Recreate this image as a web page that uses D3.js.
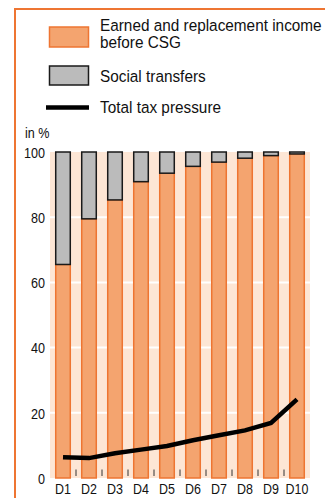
<!DOCTYPE html>
<html>
<head>
<meta charset="utf-8">
<script src="https://cdn.jsdelivr.net/npm/d3@7"></script>
<style>
  html, body { margin: 0; padding: 0; background: #fff; }
  svg { display: block; font-family: "Liberation Sans", Arial, Helvetica, sans-serif; }
</style>
</head>
<body>
<script>
const categories = ["D1","D2","D3","D4","D5","D6","D7","D8","D9","D10"];
const earnedIncome = [65.5, 79.5, 85.3, 90.9, 93.5, 95.6, 96.9, 98.1, 98.9, 99.4];
const socialTransfers = [34.5, 20.5, 14.7, 9.1, 6.5, 4.4, 3.1, 1.9, 1.1, 0.6];
const taxPressure = [6.4, 6.1, 7.6, 8.7, 9.8, 11.6, 13.1, 14.6, 16.9, 24.1];
const yTicks = [0, 20, 40, 60, 80, 100];
const legendLabels = [["Earned and replacement income", "before CSG"], ["Social transfers"], ["Total tax pressure"]];

const W = 325, H = 498;
const ORANGE = "#ee7532", ORANGE_FILL = "#f4a46f", PEACH = "#fde6d5", GREY = "#bbbbbb", DARK = "#1a1a1a";

const svg = d3.select("body").append("svg").attr("width", W).attr("height", H);

// frame
svg.append("path").attr("d", `M15,${H} L15,9 L${W},9`).attr("fill", "none")
  .attr("stroke", ORANGE).attr("stroke-width", 2);

const x = d3.scaleBand().domain(categories).range([50, 310]).paddingInner(0.44).paddingOuter(0.22);
const y = d3.scaleLinear().domain([0, 100]).range([478, 152]);

// plot background
svg.append("rect").attr("x", 50).attr("y", y(100)).attr("width", 260).attr("height", y(0) - y(100)).attr("fill", PEACH);

// gridlines
svg.append("g").selectAll("line").data(yTicks.filter(d => d > 0 && d < 100)).join("line")
  .attr("x1", 50).attr("x2", 310).attr("y1", d => y(d)).attr("y2", d => y(d))
  .attr("stroke", "#fff").attr("stroke-width", 2);

// bars
const bars = svg.append("g");
bars.selectAll("rect.e").data(categories).join("rect").attr("class", "e")
  .attr("x", d => x(d)).attr("width", x.bandwidth())
  .attr("y", (d, i) => y(earnedIncome[i])).attr("height", (d, i) => y(0) - y(earnedIncome[i]))
  .attr("fill", ORANGE_FILL).attr("stroke", ORANGE).attr("stroke-width", 1.5);
bars.selectAll("rect.s").data(categories).join("rect").attr("class", "s")
  .attr("x", d => x(d)).attr("width", x.bandwidth())
  .attr("y", (d, i) => y(earnedIncome[i] + socialTransfers[i])).attr("height", (d, i) => y(earnedIncome[i]) - y(earnedIncome[i] + socialTransfers[i]))
  .attr("fill", GREY).attr("stroke", DARK).attr("stroke-width", 1.5);

// small ticks between bars
const step = x.step();
svg.append("g").selectAll("line").data(categories.slice(1)).join("line")
  .attr("x1", d => x(d) - step * x.paddingInner() / 2).attr("x2", d => x(d) - step * x.paddingInner() / 2)
  .attr("y1", y(0) - 8.5).attr("y2", y(0) - 2)
  .attr("stroke", "#333").attr("stroke-width", 1);

// tax line
const line = d3.line().x((d, i) => x(categories[i]) + x.bandwidth() / 2).y(d => y(d));
svg.append("path").datum(taxPressure).attr("d", line).attr("fill", "none")
  .attr("stroke", "#000").attr("stroke-width", 4.5).attr("stroke-linejoin", "miter");

// y axis
const yAxis = svg.append("g").attr("transform", "translate(45,0)")
  .call(d3.axisLeft(y).tickValues(yTicks).tickSize(0).tickPadding(0));
yAxis.select(".domain").remove();
yAxis.selectAll("text").attr("x", 0).attr("dy", "0.35em").attr("font-size", 15)
  .attr("font-family", null).attr("fill", "#111").attr("transform", "scale(0.84,1)");

// x axis
const xAxis = svg.append("g").attr("transform", `translate(0,${y(0)})`)
  .call(d3.axisBottom(x).tickSize(0).tickPadding(0));
xAxis.select(".domain").remove();
xAxis.selectAll("text").attr("y", 16.5).attr("dy", null).attr("font-size", 14.5)
  .attr("font-family", null).attr("fill", "#111").attr("transform", "scale(0.86,1)");

// "in %"
svg.append("text").attr("transform", "translate(25,137.5) scale(0.84,1)").attr("font-size", 15).attr("fill", "#111").text("in %");

// legend
const lg = svg.append("g");
lg.append("rect").attr("x", 49.5).attr("y", 27).attr("width", 39).attr("height", 20)
  .attr("fill", ORANGE_FILL).attr("stroke", ORANGE).attr("stroke-width", 1.5);
lg.append("rect").attr("x", 49.5).attr("y", 66).attr("width", 39).attr("height", 19)
  .attr("fill", GREY).attr("stroke", DARK).attr("stroke-width", 1.5);
lg.append("line").attr("x1", 46).attr("x2", 89).attr("y1", 107.5).attr("y2", 107.5)
  .attr("stroke", "#000").attr("stroke-width", 4.5);
const baselines = [[31.3, 48], [81.5], [113.3]];
legendLabels.forEach((lines, i) => {
  lines.forEach((t, j) => {
    lg.append("text").attr("transform", `translate(100,${baselines[i][j]}) scale(0.93,1)`)
      .attr("font-size", 16.5).attr("fill", "#111").text(t);
  });
});
</script>
</body>
</html>
